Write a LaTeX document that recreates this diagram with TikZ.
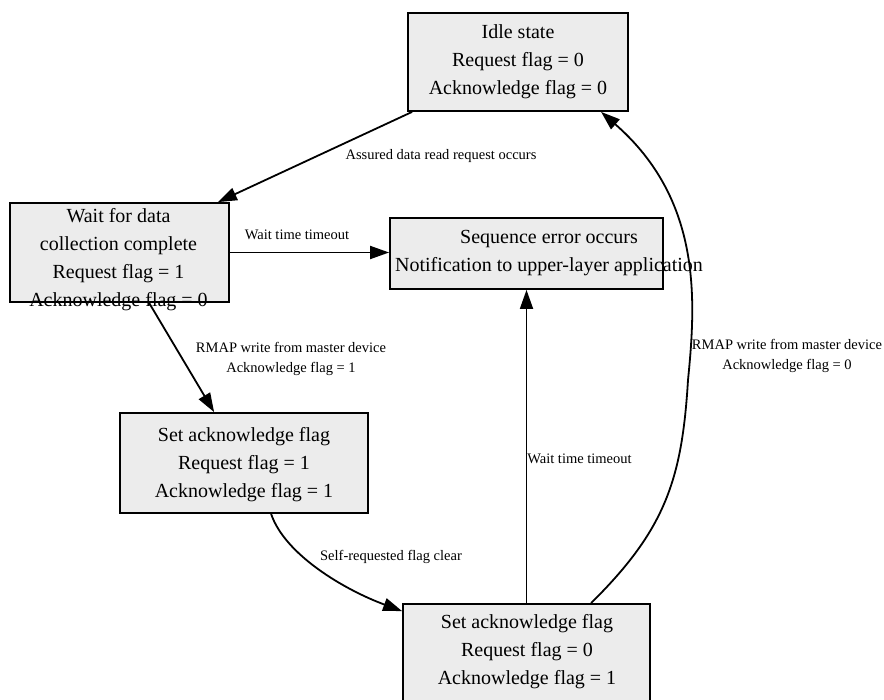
\documentclass[tikz,border=0pt]{standalone}
\usepackage{fontspec}
\setmainfont{Liberation Serif}
\usetikzlibrary{arrows.meta}
\definecolor{boxfill}{RGB}{236,236,236}
\begin{document}
\begin{tikzpicture}[x=1pt,y=-1pt,
  statebox/.style={draw=black, line width=1.8pt, fill=boxfill, rectangle, inner sep=0pt},
  statetext/.style={align=center, inner sep=0pt, font=\fontsize{20}{28}\selectfont},
  edgelabel/.style={align=center, inner sep=0pt, font=\fontsize{14.5}{20}\selectfont},
  trans/.style={line width=1.8pt, -{Triangle[length=19pt,width=13pt]}}
]
\useasboundingbox (0,0) rectangle (884,700);
\clip (0,0) rectangle (884,700);

% state boxes
\node[statebox, minimum width=220pt, minimum height=98pt] (idle) at (518,62) {};
\node[statebox, minimum width=219pt, minimum height=99pt] (wait) at (119.5,252.5) {};
\node[statebox, minimum width=273pt, minimum height=71pt] (seq) at (526.5,253.5) {};
\node[statebox, minimum width=248pt, minimum height=100pt] (set1) at (244,463) {};
\node[statebox, minimum width=247pt, minimum height=100pt] (set2) at (526.5,654) {};

% state texts
\node[statetext] (idletxt) at (518,61.5) {Idle state\\Request flag = 0\\Acknowledge flag = 0};
\node[statetext] (waittxt) at (118.5,259.5) {Wait for data\\collection complete\\Request flag = 1\\Acknowledge flag = 0};
\node[statetext] (seqtxt) at (549,253) {Sequence error occurs\\Notification to upper-layer application};
\node[statetext] (set1txt) at (244,465) {Set acknowledge flag\\Request flag = 1\\Acknowledge flag = 1};
\node[statetext] (set2txt) at (527,652) {Set acknowledge flag\\Request flag = 0\\Acknowledge flag = 1};

% transitions
\draw[trans] ([xshift=5pt]idle.south west) -- ([xshift=-12pt]wait.north east);
\draw[trans] (wait.east) -- (wait.east -| seq.west);
\draw[trans] ([xshift=140pt]wait.south west) -- ([xshift=95pt]set1.north west);
\draw[trans] ([xshift=152pt]set1.south west) .. controls (285,555) and (345,590) .. ([yshift=-8pt]set2.north west);
\draw[trans] (set2.north) -- (seq.south);
\draw[trans] ([xshift=189pt]set2.north west) .. controls (665,530) and (682,480) .. (688,380)
  .. controls (696,300) and (702,200) .. ([xshift=194pt]idle.south west);

% transition labels
\node[edgelabel] (l1) at (441,156.5) {Assured data read request occurs};
\node[edgelabel] (l2) at (297,235) {Wait time timeout};
\node[edgelabel] (l3) at (291,359.3) {RMAP write from master device\\Acknowledge flag = 1};
\node[edgelabel] (l4) at (391,556.6) {Self-requested flag clear};
\node[edgelabel] (l5) at (579.5,459) {Wait time timeout};
\node[edgelabel] (l6) at (787,356.3) {RMAP write from master device\\Acknowledge flag = 0};
\end{tikzpicture}
\end{document}
